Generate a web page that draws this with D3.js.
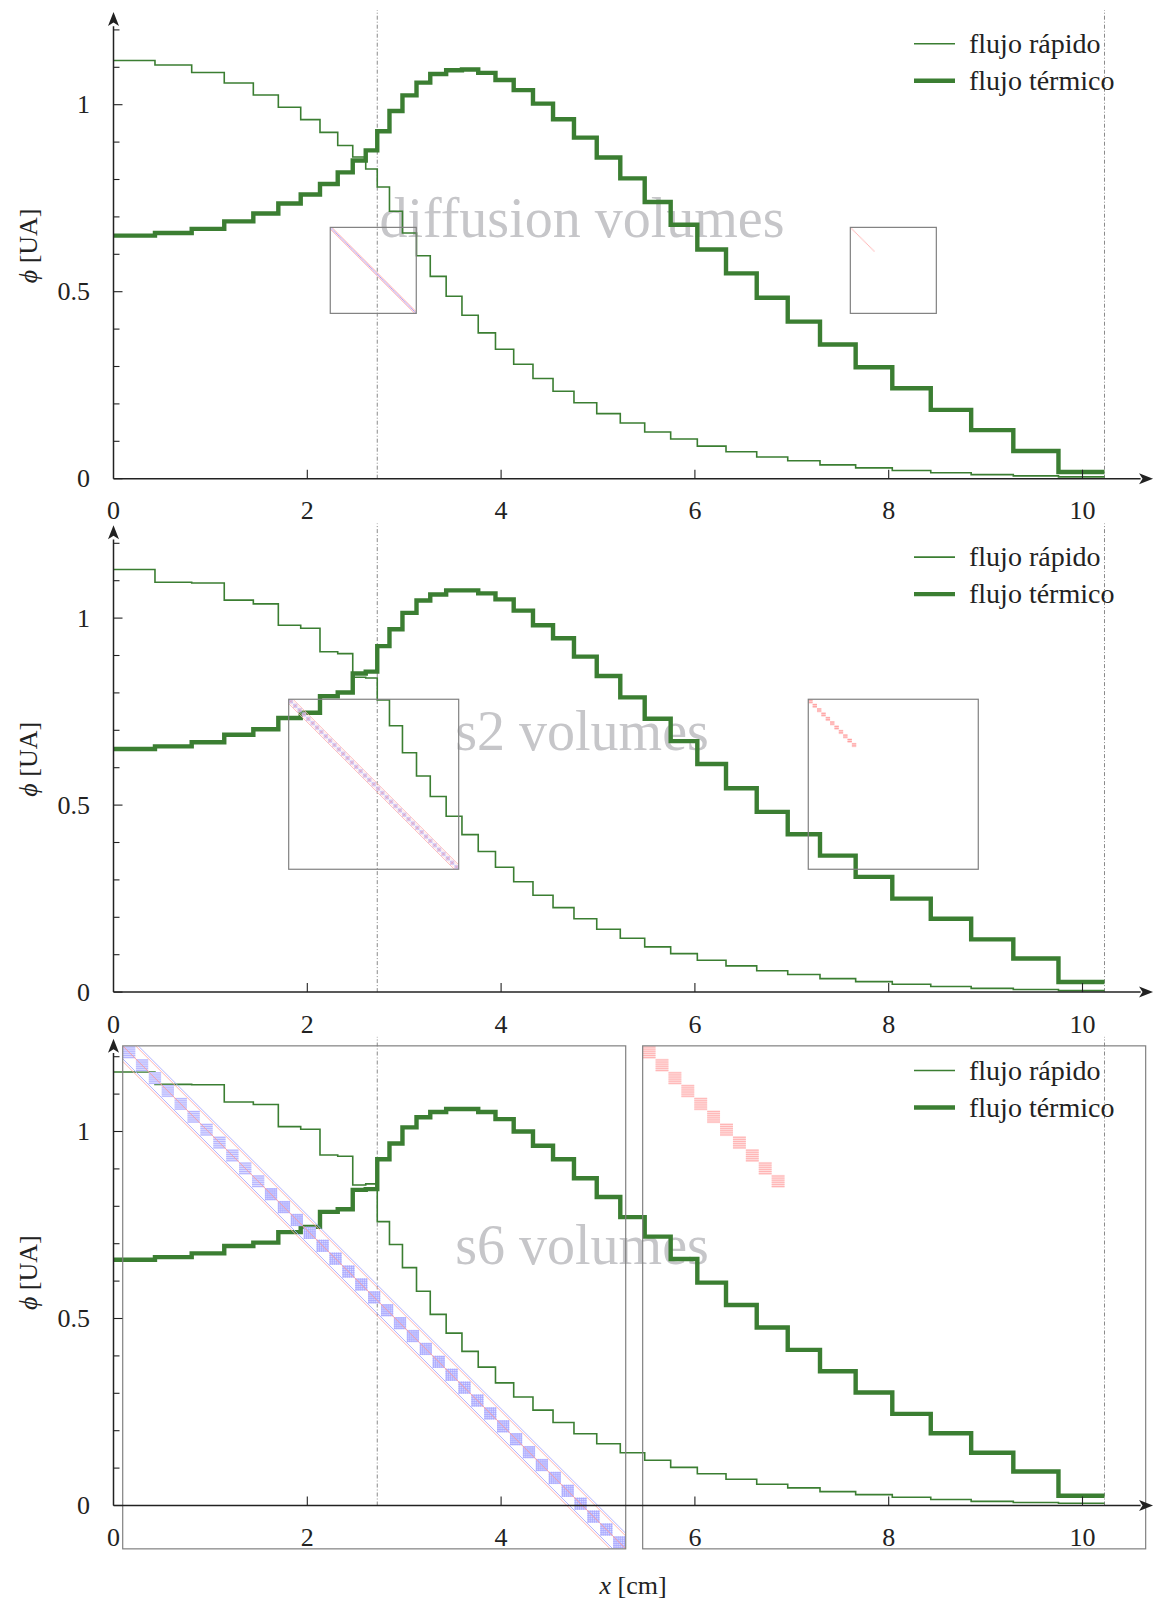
<!DOCTYPE html>
<html><head><meta charset="utf-8">
<script src="https://cdn.jsdelivr.net/npm/d3@7"></script>
<style>
body{margin:0;background:#fff}
svg{display:block}
text{font-family:"Liberation Serif","Times New Roman",serif;}
</style>
</head><body>
<svg id="chart" width="1155" height="1600"></svg>
<script>
// ---------------- DATA ----------------
// cell edges of the spatial mesh [cm]
const edges = [0, 0.428, 0.807, 1.143, 1.443, 1.701, 1.932, 2.131, 2.314, 2.469, 2.603, 2.722,
  2.848, 2.982, 3.127, 3.269, 3.433, 3.596, 3.764, 3.942, 4.130, 4.329, 4.536, 4.752, 4.987,
  5.230, 5.482, 5.750, 6.025, 6.321, 6.638, 6.958, 7.291, 7.659, 8.037, 8.434, 8.851, 9.286,
  9.752, 10.227];

const fastDiffusion = [1.118, 1.106, 1.086, 1.058, 1.026, 0.993, 0.960, 0.926, 0.891, 0.860, 0.828,
  0.780, 0.715, 0.657, 0.596, 0.541, 0.488, 0.437, 0.390, 0.346, 0.306, 0.268, 0.234, 0.203,
  0.174, 0.149, 0.125, 0.106, 0.087, 0.072, 0.058, 0.048, 0.037, 0.029, 0.022, 0.016, 0.011,
  0.0075, 0.005];
const thermalDiffusion = [0.650, 0.657, 0.668, 0.688, 0.709, 0.736, 0.760, 0.788, 0.819, 0.851, 0.878,
  0.929, 0.983, 1.025, 1.059, 1.082, 1.092, 1.094, 1.085, 1.066, 1.039, 1.003, 0.961, 0.912,
  0.859, 0.803, 0.740, 0.679, 0.613, 0.549, 0.484, 0.420, 0.359, 0.298, 0.242, 0.184, 0.130,
  0.074, 0.018];

const fastS2 = [1.130, 1.096, 1.094, 1.048, 1.038, 0.981, 0.973, 0.910, 0.905, 0.842, 0.840,
  0.781, 0.712, 0.640, 0.578, 0.523, 0.470, 0.421, 0.376, 0.334, 0.295, 0.259, 0.226, 0.196,
  0.168, 0.144, 0.121, 0.103, 0.085, 0.070, 0.057, 0.047, 0.036, 0.028, 0.021, 0.015, 0.010,
  0.007, 0.004];
const thermalS2 = [0.650, 0.657, 0.668, 0.688, 0.703, 0.733, 0.747, 0.791, 0.801, 0.852, 0.857,
  0.925, 0.970, 1.014, 1.047, 1.063, 1.074, 1.074, 1.066, 1.050, 1.020, 0.981, 0.946, 0.897,
  0.845, 0.788, 0.731, 0.671, 0.610, 0.545, 0.482, 0.422, 0.365, 0.308, 0.250, 0.196, 0.141,
  0.090, 0.027];

const fastS6 = [1.159, 1.126, 1.125, 1.079, 1.072, 1.013, 1.006, 0.937, 0.934, 0.857, 0.860,
  0.759, 0.698, 0.636, 0.573, 0.511, 0.461, 0.412, 0.370, 0.328, 0.290, 0.255, 0.222, 0.192,
  0.165, 0.141, 0.121, 0.102, 0.085, 0.070, 0.057, 0.047, 0.037, 0.029, 0.022, 0.016, 0.011,
  0.008, 0.006];
const thermalS6 = [0.657, 0.664, 0.674, 0.694, 0.703, 0.731, 0.745, 0.785, 0.792, 0.844, 0.846,
  0.926, 0.968, 1.011, 1.038, 1.052, 1.060, 1.060, 1.052, 1.033, 1.000, 0.962, 0.926, 0.875,
  0.825, 0.771, 0.719, 0.659, 0.596, 0.536, 0.476, 0.416, 0.359, 0.302, 0.245, 0.193, 0.141,
  0.091, 0.026];

const methodLabels = ["diffusion volumes", "s2 volumes", "s6 volumes"];
const methodKinds = ["diffusion", "s2", "s6"];
const legendLabels = ["flujo rápido", "flujo térmico"];
const xTickValues = [0, 2, 4, 6, 8, 10];
const xTickLabels = ["0", "2", "4", "6", "8", "10"];
const yMajorTicks = [0, 0.5, 1];
const yMajorLabels = ["0", "0.5", "1"];
const yMinorTicks = [0.1, 0.2, 0.3, 0.4, 0.6, 0.7, 0.8, 0.9, 1.1, 1.2];
const interfaceX = 2.722;   // material interface
const outerX = 10.227;      // outer boundary
const fuelCells = 11;       // cells with fission source

const panelsData = [
  {fast: fastDiffusion, thermal: thermalDiffusion},
  {fast: fastS2, thermal: thermalS2},
  {fast: fastS6, thermal: thermalS6}
];

// ---------------- LAYOUT ----------------
const svg = d3.select("#chart");
const GREEN = "#3b7e32";
const AXIS = "#222";
const panelY0 = [478.7, 992.1, 1505.5];
const unitPx = 374;
const x = d3.scaleLinear().domain([0, 10]).range([113.5, 1082.5]);
// inset boxes: [x in cm, y-top in flux units, size px]
const insetLayout = [
  [{x: 2.237, y: 0.672, s: 86}, {x: 7.604, y: 0.672, s: 86}],
  [{x: 1.808, y: 0.783, s: 170}, {x: 7.170, y: 0.783, s: 170}],
  [{x: 0.095, y: 1.229, s: 503}, {x: 5.461, y: 1.229, s: 503}]
];

function stepPoints(vals) {
  const pts = vals.map((v, i) => [edges[i], v]);
  pts.push([edges[edges.length - 1], vals[vals.length - 1]]);
  return pts;
}

function stealth(g, tipX, tipY, dir) {
  let p;
  if (dir === "up") p = [[tipX, tipY], [tipX - 5.5, tipY + 14], [tipX, tipY + 10.5], [tipX + 5.5, tipY + 14]];
  else p = [[tipX, tipY], [tipX - 14, tipY - 5.5], [tipX - 10.5, tipY], [tipX - 14, tipY + 5.5]];
  g.append("path").attr("d", "M" + p.map(d => d.join(",")).join("L") + "Z").attr("fill", AXIS);
}

function diagLine(m, S, off, color, w) {
  if (off >= 0) m.append("line").attr("x1", off).attr("y1", 0).attr("x2", S).attr("y2", S - off).attr("stroke", color).attr("stroke-width", w);
  else m.append("line").attr("x1", 0).attr("y1", -off).attr("x2", S + off).attr("y2", S).attr("stroke", color).attr("stroke-width", w);
}

function drawMatrix(g, X, Y, S, kind, which) {
  const n = edges.length - 1;
  const gg = g.append("g").attr("transform", `translate(${X},${Y})`);
  const clipId = "clip" + Math.round(X) + "_" + Math.round(Y);
  gg.append("clipPath").attr("id", clipId).append("rect").attr("width", S).attr("height", S);
  const m = gg.append("g").attr("clip-path", `url(#${clipId})`);
  if (kind === "diffusion") {
    const N = 2 * n, s = S / N;
    if (which === 0) {
      diagLine(m, S, 1.6, "#ffaaaa", 0.9);
      diagLine(m, S, -1.6, "#ffaaaa", 0.9);
      for (let i = 0; i < N; i++) {
        m.append("rect").attr("x", i * s).attr("y", i * s).attr("width", s).attr("height", s)
          .attr("fill", i % 2 ? "#8f8fff" : "#c08fe0").attr("opacity", 0.85);
      }
    } else {
      for (let i = 0; i < 2 * fuelCells; i++) {
        m.append("rect").attr("x", i * s).attr("y", i * s).attr("width", s).attr("height", s).attr("fill", "#ff8a8a").attr("opacity", 0.6);
      }
    }
  } else if (kind === "s2") {
    const b = S / n;
    if (which === 0) {
      diagLine(m, S, b, "#ffb4b4", 0.9);
      diagLine(m, S, -b, "#ffb4b4", 0.9);
      for (let i = 0; i < n; i++) {
        m.append("rect").attr("x", i * b).attr("y", i * b).attr("width", b).attr("height", b).attr("fill", "#c4c4ff").attr("opacity", 0.85);
        m.append("path").attr("d", `M${i * b + 0.8},${i * b + 0.8}L${(i + 1) * b - 0.8},${(i + 1) * b - 0.8}M${(i + 1) * b - 0.8},${i * b + 0.8}L${i * b + 0.8},${(i + 1) * b - 0.8}`)
          .attr("stroke", "#ff7a7a").attr("stroke-width", 0.6).attr("opacity", 0.7);
      }
      diagLine(m, S, b * 0.5, "#ffcccc", 0.6);
      diagLine(m, S, -b * 0.5, "#ffcccc", 0.6);
    } else {
      for (let i = 0; i < fuelCells; i++) {
        m.append("rect").attr("x", i * b).attr("y", i * b).attr("width", b).attr("height", b).attr("fill", "#ffd6d6");
        for (let k = 0; k < 2; k++)
          m.append("line").attr("x1", i * b).attr("x2", (i + 1) * b).attr("y1", i * b + 1 + k * 2).attr("y2", i * b + 1 + k * 2)
            .attr("stroke", "#ff8a8a").attr("stroke-width", 0.7);
      }
    }
  } else {
    const b = S / n;
    if (which === 0) {
      diagLine(m, S, b, "#ffa8a8", 0.9);
      diagLine(m, S, b + 2.6, "#a8a8ff", 0.9);
      diagLine(m, S, -b, "#a8a8ff", 0.9);
      diagLine(m, S, -b - 2.6, "#ffa8a8", 0.9);
      for (let i = 0; i < n; i++) {
        const bx = i * b, by = i * b;
        m.append("rect").attr("x", bx + 0.3).attr("y", by + 0.3).attr("width", b - 0.6).attr("height", b - 0.6).attr("fill", "#dcdcff");
        for (let k = 0; k < 6; k++) {
          m.append("line").attr("x1", bx + 0.3).attr("x2", bx + b - 0.3).attr("y1", by + 1.2 + k * 2.1).attr("y2", by + 1.2 + k * 2.1)
            .attr("stroke", "#a4a4ff").attr("stroke-width", 0.7);
          if (i >= fuelCells)
            m.append("line").attr("y1", by + 0.3).attr("y2", by + b - 0.3).attr("x1", bx + 1.2 + k * 2.1).attr("x2", bx + 1.2 + k * 2.1)
              .attr("stroke", "#a4a4ff").attr("stroke-width", 0.7);
        }
      }
      diagLine(m, S, 0, "#ff9a9a", 0.9);
    } else {
      for (let i = 0; i < fuelCells; i++) {
        const bx = i * b, by = i * b;
        m.append("rect").attr("x", bx).attr("y", by).attr("width", b).attr("height", b).attr("fill", "#ffdfdf");
        for (let k = 0; k < 6; k++)
          m.append("line").attr("x1", bx).attr("x2", bx + b).attr("y1", by + 1.2 + k * 2.1).attr("y2", by + 1.2 + k * 2.1)
            .attr("stroke", "#ffa0a0").attr("stroke-width", 0.7);
      }
    }
  }
  gg.append("rect").attr("width", S).attr("height", S).attr("fill", "none").attr("stroke", "#808080").attr("stroke-width", 1.2);
}

panelsData.forEach((pd, k) => {
  const y0 = panelY0[k];
  const y = d3.scaleLinear().domain([0, 1]).range([y0, y0 - unitPx]);
  const g = svg.append("g");

  // method title (gray)
  g.append("text").attr("x", 582).attr("y", y(0.647)).attr("text-anchor", "middle")
    .attr("font-size", 56).attr("fill", "#c6c6c9").text(methodLabels[k]);

  // dash-dot vertical lines
  [interfaceX, outerX].forEach(v => {
    g.append("line").attr("x1", x(v)).attr("x2", x(v)).attr("y1", y(0)).attr("y2", y(1.253))
      .attr("stroke", "#8a8a8a").attr("stroke-width", 1).attr("stroke-dasharray", "4,2,1,2");
  });

  // curves
  const line = d3.line().x(d => x(d[0])).y(d => y(d[1])).curve(d3.curveStepAfter);
  g.append("path").attr("d", line(stepPoints(pd.fast))).attr("fill", "none").attr("stroke", GREEN).attr("stroke-width", 1.6);
  g.append("path").attr("d", line(stepPoints(pd.thermal))).attr("fill", "none").attr("stroke", GREEN).attr("stroke-width", 4.4);

  // matrix insets
  insetLayout[k].forEach((L, w) => drawMatrix(g, x(L.x), y(L.y), L.s, methodKinds[k], w));

  // axes
  const ax = g.append("g");
  ax.append("line").attr("x1", x(0)).attr("x2", x(10.6)).attr("y1", y(0)).attr("y2", y(0)).attr("stroke", AXIS).attr("stroke-width", 1.5);
  stealth(ax, x(10.728), y(0), "right");
  ax.append("line").attr("x1", x(0)).attr("x2", x(0)).attr("y1", y(0)).attr("y2", y(1.21)).attr("stroke", AXIS).attr("stroke-width", 1.5);
  stealth(ax, x(0), y(1.248), "up");

  yMinorTicks.forEach(t => ax.append("line").attr("x1", x(0)).attr("x2", x(0) + 6).attr("y1", y(t)).attr("y2", y(t)).attr("stroke", AXIS).attr("stroke-width", 1.1));
  yMajorTicks.forEach((t, i) => {
    ax.append("line").attr("x1", x(0)).attr("x2", x(0) + 9).attr("y1", y(t)).attr("y2", y(t)).attr("stroke", AXIS).attr("stroke-width", 1.1);
    ax.append("text").attr("x", 90).attr("y", y(t) + 8.5).attr("text-anchor", "end").attr("font-size", 26).attr("fill", AXIS).text(yMajorLabels[i]);
  });
  xTickValues.forEach((t, i) => {
    if (t > 0) ax.append("line").attr("x1", x(t)).attr("x2", x(t)).attr("y1", y(0)).attr("y2", y(0) - 9).attr("stroke", AXIS).attr("stroke-width", 1.1);
    ax.append("text").attr("x", x(t)).attr("y", y(0) + 40.5).attr("text-anchor", "middle").attr("font-size", 26).attr("fill", AXIS).text(xTickLabels[i]);
  });

  // y label
  const yl = ax.append("text").attr("transform", `translate(37,${(y(0) + y(1.245)) / 2}) rotate(-90)`)
    .attr("text-anchor", "middle").attr("font-size", 26).attr("fill", AXIS);
  yl.append("tspan").attr("font-style", "italic").text("ϕ");
  yl.append("tspan").text(" [UA]");

  // legend
  const lg = g.append("g");
  legendLabels.forEach((lab, i) => {
    const ly = y0 - 435 + i * 37;
    lg.append("line").attr("x1", 914).attr("x2", 955).attr("y1", ly).attr("y2", ly).attr("stroke", GREEN).attr("stroke-width", i === 0 ? 1.6 : 4.4);
    lg.append("text").attr("x", 969).attr("y", ly + 9).attr("font-size", 28).attr("fill", AXIS).text(lab);
  });
});

// x label
const xl = svg.append("text").attr("x", 633).attr("y", 1594).attr("text-anchor", "middle").attr("font-size", 26).attr("fill", AXIS);
xl.append("tspan").attr("font-style", "italic").text("x");
xl.append("tspan").text(" [cm]");
</script>
</body></html>
